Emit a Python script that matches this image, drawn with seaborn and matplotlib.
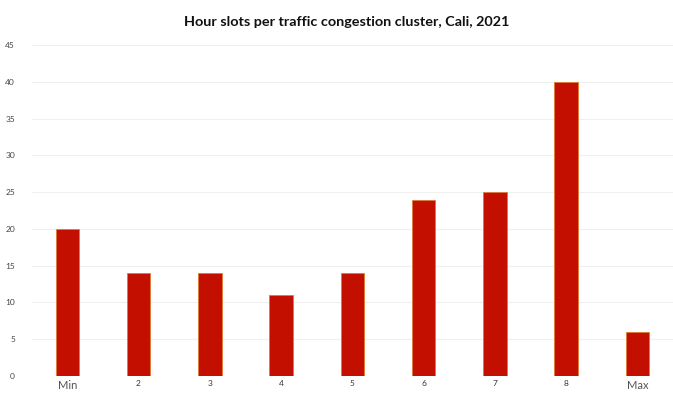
import matplotlib
matplotlib.use('Agg')
import matplotlib.pyplot as plt
import seaborn as sns
import pandas as pd

# Datos del gráfico
clusters = ['Min', '2', '3', '4', '5', '6', '7', '8', 'Max']
hour_slots = [20, 14, 14, 11, 14, 24, 25, 40, 6]

df = pd.DataFrame({'cluster': clusters, 'slots': hour_slots})

sns.set_style('white')
plt.rcParams['font.family'] = ['Lato', 'DejaVu Sans']

fig = plt.figure(figsize=(6.73, 3.95), dpi=100)
ax = fig.add_axes([0.047, 0.048, 0.953, 0.838])

sns.barplot(data=df, x='cluster', y='slots', color='#c20f00', width=0.33,
            edgecolor='#e07a30', linewidth=0.6, saturation=1, ax=ax)

ax.set_ylim(0, 45)
ax.set_xlim(-0.5, 8.5)
ax.set_yticks(range(0, 46, 5))
ax.yaxis.grid(True, color='#f0f0f0', linewidth=0.8)
ax.set_axisbelow(True)
for s in ax.spines.values():
    s.set_visible(False)

ax.tick_params(axis='y', labelsize=6, colors='#444444', length=0, pad=12)
ax.tick_params(axis='x', labelsize=6, colors='#333333', length=0, pad=3)
for lbl in ax.get_xticklabels():
    if lbl.get_text() in ('Min', 'Max'):
        lbl.set_fontsize(8)
        lbl.set_color('#555555')

ax.set_xlabel('')
ax.set_ylabel('')
fig.text(0.515, 0.945, 'Hour slots per traffic congestion cluster, Cali, 2021',
         ha='center', va='center', fontsize=10.4, fontweight='bold', color='#111111')

fig.savefig('out.png', dpi=100)
